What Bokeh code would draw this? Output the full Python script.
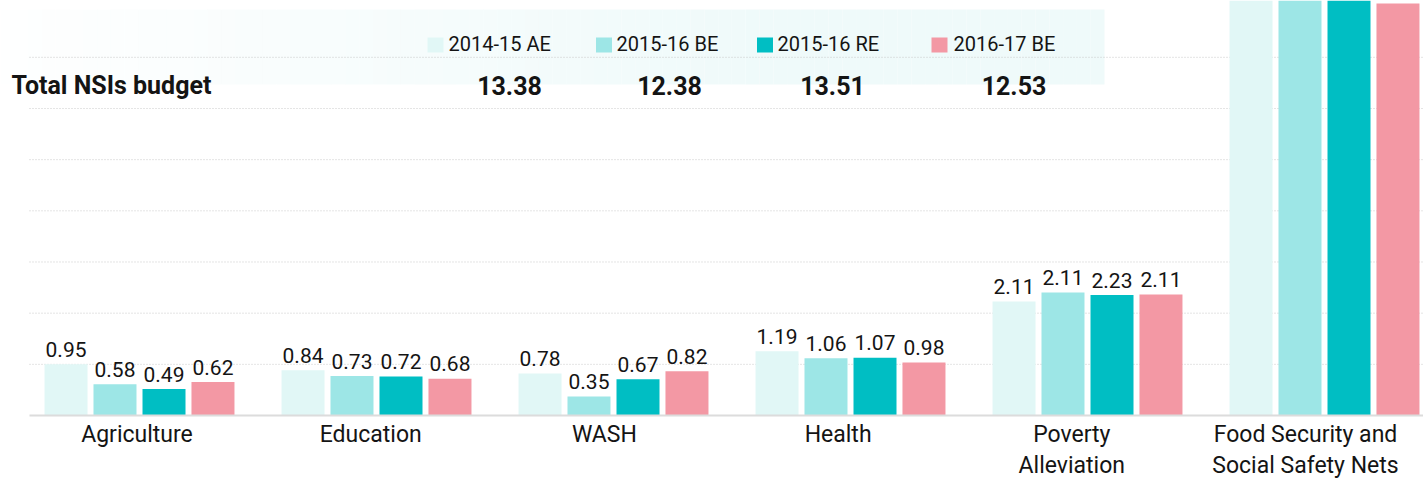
from bokeh.plotting import figure
from bokeh.models import Range1d, ColumnDataSource
from bokeh.core.properties import value
from bokeh.embed import file_html
from bokeh.resources import INLINE
from bokeh.transform import dodge

# ---------------- data ----------------
categories = ["Agriculture", "Education", "WASH", "Health",
              "Poverty\nAlleviation", "Food Security and\nSocial Safety Nets"]
series = ["2014-15 AE", "2015-16 BE", "2015-16 RE", "2016-17 BE"]
ae_2014_15 = [0.95, 0.84, 0.78, 1.19, 2.11, 7.80]
be_2015_16 = [0.58, 0.73, 0.35, 1.06, 2.28, 7.80]
re_2015_16 = [0.49, 0.72, 0.67, 1.07, 2.23, 8.30]
be_2016_17 = [0.62, 0.68, 0.82, 0.98, 2.24, 7.63]
lbl_ae_2014_15 = ["0.95", "0.84", "0.78", "1.19", "2.11", ""]
lbl_be_2015_16 = ["0.58", "0.73", "0.35", "1.06", "2.11", ""]
lbl_re_2015_16 = ["0.49", "0.72", "0.67", "1.07", "2.23", ""]
lbl_be_2016_17 = ["0.62", "0.68", "0.82", "0.98", "2.11", ""]
total_title = "Total NSIs budget"
totals = ["13.38", "12.38", "13.51", "12.53"]

colors = ["#e1f7f6", "#9de6e6", "#00bec3", "#f398a4"]
FONT = value("Roboto")
TXT = "#141414"

# ---------------- figure ----------------
W, H = 1423, 479
p = figure(width=W, height=H, output_backend="svg", toolbar_location=None,
           x_range=Range1d((0 - 139) / 237, (W - 139) / 237),
           y_range=Range1d(-(H - 415) / 54, 415 / 54),
           min_border=0, min_border_left=0, min_border_right=0,
           min_border_top=0, min_border_bottom=0)
p.axis.visible = False
p.grid.visible = False
p.outline_line_color = None
p.background_fill_color = "white"

# layout ranges (screen-pixel coordinates) and category-label range
p.extra_x_ranges = {"px": Range1d(0, W),
                    "lab": Range1d((0 - 136.5) / 233.7, (W - 136.5) / 233.7)}
p.extra_y_ranges = {"px": Range1d(H, 0)}

# legend band background (fading gradient)
n = 80
lefts = [1104 * i / n for i in range(n)]
rights = [1104 * (i + 1) / n for i in range(n)]
alphas = [min(1.0, 0.05 + 0.95 * ((i + 0.5) / n) / 0.7) for i in range(n)]
p.quad(left=lefts, right=rights, top=[9] * n, bottom=[84] * n,
       fill_color="#effafa", fill_alpha=alphas, line_color=None,
       x_range_name="px", y_range_name="px")

# dotted gridlines
grid_step = 0.9476
gy = [grid_step * k for k in range(1, 8)]
p.segment(x0=[(29 - 139) / 237] * len(gy), x1=[6.0] * len(gy), y0=gy, y1=gy,
          line_color="#c9c9c9", line_width=1, line_dash="1 2")

# bars
idx = list(range(len(categories)))
src = ColumnDataSource(dict(x=idx, ae=ae_2014_15, be=be_2015_16, re=re_2015_16,
                            be17=be_2016_17, l_ae=lbl_ae_2014_15, l_be=lbl_be_2015_16,
                            l_re=lbl_re_2015_16, l_be17=lbl_be_2016_17))
cols = ["ae", "be", "re", "be17"]
lcols = ["l_ae", "l_be", "l_re", "l_be17"]
offsets = [-0.310, -0.1034, 0.1034, 0.310]
bw = 43 / 237
for c, lc, off, col in zip(cols, lcols, offsets, colors):
    p.vbar(x=dodge("x", off, range=p.x_range), top=c, width=bw, bottom=0,
           source=src, fill_color=col, line_color=None)
    p.text(x=dodge("x", off, range=p.x_range), y=c, text=lc, source=src,
           text_font=FONT, text_font_size="21px", text_color=TXT,
           text_align="center", text_baseline="alphabetic", y_offset=-15)

# baseline
p.segment(x0=[(29 - 139) / 237], x1=[6.0], y0=[0], y1=[0],
          line_color="#dcdcdc", line_width=2)

# category labels
p.text(x=idx, y=[0] * len(idx), text=categories, x_range_name="lab",
       text_font=FONT, text_font_size="23px", text_color=TXT,
       text_align="center", text_baseline="top", y_offset=5, text_line_height=1.18)

# legend
sq_x = [435, 603.5, 764.5, 939]
tx_x = [448, 616, 777, 953]
p.rect(x=sq_x, y=[44.5] * 4, width=16, height=15, fill_color=colors, line_color=None,
       x_range_name="px", y_range_name="px")
p.text(x=tx_x, y=[43] * 4, text=series, x_range_name="px", y_range_name="px",
       text_font=FONT, text_font_size="20px", text_color=TXT,
       text_align="left", text_baseline="alphabetic")

# totals row
p.text(x=[11], y=[85], text=[total_title], x_range_name="px", y_range_name="px",
       text_font=FONT, text_font_size="25px", text_font_style="bold",
       text_color=TXT, text_align="left", text_baseline="alphabetic")
p.text(x=[509, 669, 832, 1013.5], y=[85] * 4, text=totals,
       x_range_name="px", y_range_name="px",
       text_font=FONT, text_font_size="25px", text_font_style="bold",
       text_color=TXT, text_align="center", text_baseline="alphabetic")

open("out.html", "w").write(file_html(p, INLINE))
